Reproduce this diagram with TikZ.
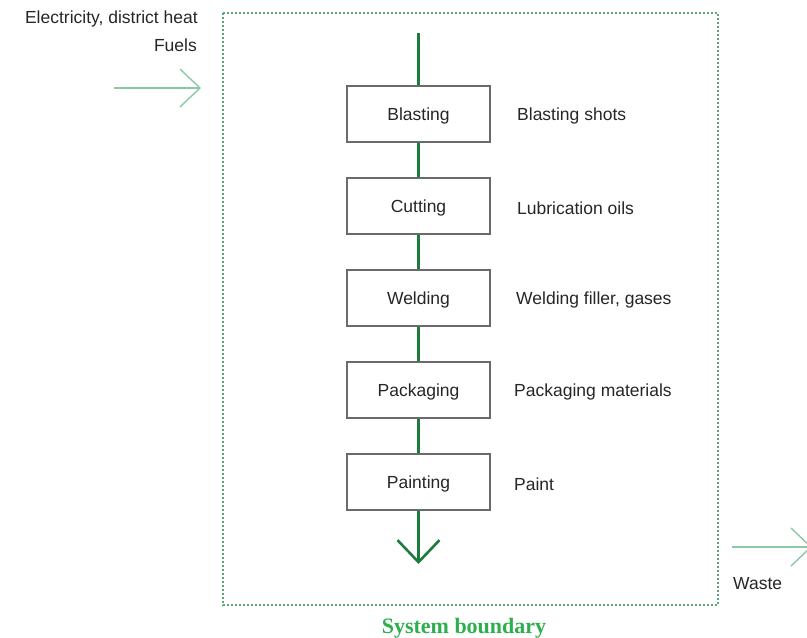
\documentclass[tikz,border=0pt]{standalone}
\usepackage{fontspec}
\setmainfont{Liberation Sans}
\newfontfamily\serifbf{Liberation Serif}
\usetikzlibrary{arrows.meta}
\definecolor{flowgreen}{HTML}{1E7B3E}
\definecolor{lightgreen}{HTML}{8CC8A4}
\definecolor{boundgreen}{HTML}{5AA877}
\definecolor{labgreen}{HTML}{2EAF4E}
\definecolor{boxgray}{HTML}{6A6A6A}
\definecolor{textgray}{HTML}{262626}
\begin{document}
\begin{tikzpicture}[x=1pt,y=-1pt,
  every node/.style={text=textgray},
  procbox/.style={draw=boxgray,line width=1.4pt,minimum width=143pt,minimum height=56pt,inner sep=0pt,text depth=0pt,font=\fontsize{17.5}{19}\selectfont},
  sidelab/.style={anchor=west,inner sep=0pt,font=\fontsize{17.5}{19}\selectfont},
  flow/.style={draw=flowgreen,line width=2.6pt},
  inflow/.style={draw=lightgreen,line width=1.4pt,-{Straight Barb[length=20pt,width=38pt,line width=1.4pt]}}]
\useasboundingbox (0,0) rectangle (807,638);
\draw[boundgreen,line width=1.4pt,dash pattern=on 1.6pt off 2.4pt] (223,13) rectangle (718,605);
\node[procbox] (b1) at (418.5,114) {Blasting};
\node[procbox] (b2) at (418.5,206) {Cutting};
\node[procbox] (b3) at (418.5,298) {Welding};
\node[procbox] (b4) at (418.5,390) {Packaging};
\node[procbox] (b5) at (418.5,482) {Painting};
\node[sidelab] (l1) at (517,116) {Blasting shots};
\node[sidelab] (l2) at (517,208) {Lubrication oils};
\node[sidelab] (l3) at (516,300) {Welding filler, gases};
\node[sidelab] (l4) at (514,392) {Packaging materials};
\node[sidelab] (l5) at (514,484) {Paint};
\coordinate (top) at (418.5,33);
\coordinate (bot) at (418.5,564);
\draw[flow] (top) -- (b1);
\draw[flow] (b1) -- (b2);
\draw[flow] (b2) -- (b3);
\draw[flow] (b3) -- (b4);
\draw[flow] (b4) -- (b5);
\draw[flow,-{Straight Barb[length=22pt,width=42pt,line width=2.6pt]}] (b5) -- (bot);
\node[anchor=east,inner sep=0pt,font=\fontsize{17.5}{19}\selectfont] (e1) at (198,19) {Electricity, district heat};
\node[anchor=east,inner sep=0pt,font=\fontsize{17.5}{19}\selectfont] (e2) at (197,45) {Fuels};
\coordinate (inA) at (114,88);
\coordinate (inB) at (201,88);
\draw[inflow] (inA) -- (inB);
\coordinate (outA) at (732,547);
\coordinate (outB) at (812,547);
\draw[inflow] (outA) -- (outB);
\node[anchor=west,inner sep=0pt,font=\fontsize{17.5}{19}\selectfont] (w) at (733,584) {Waste};
\node[inner sep=0pt,text=labgreen,font=\serifbf\bfseries\fontsize{22}{24}\selectfont] (sb) at (464,628) {System boundary};
\end{tikzpicture}
\end{document}
